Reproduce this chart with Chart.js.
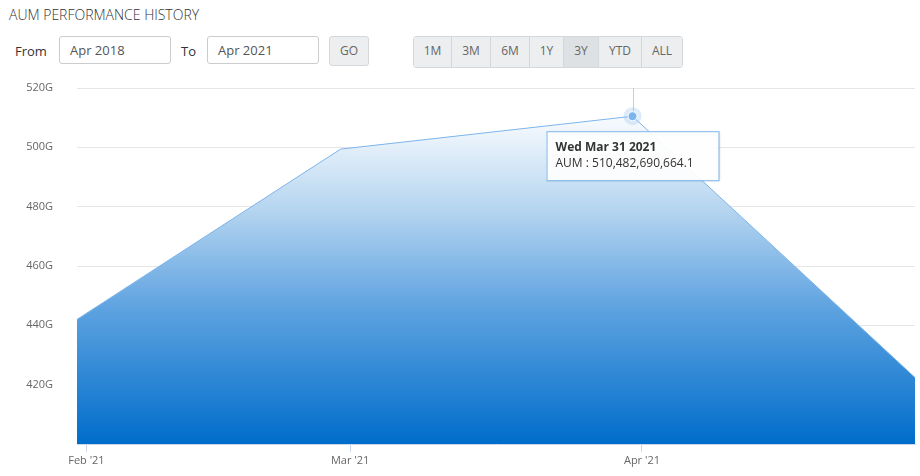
<!DOCTYPE html>
<html><head><meta charset="utf-8">
<script src="https://cdn.jsdelivr.net/npm/chart.js@4"></script>
<style>
body{margin:0;width:920px;height:476px;position:relative;font-family:"Open Sans",sans-serif;background:#fff;overflow:hidden}
#title{position:absolute;left:9px;top:5px;font-size:14px;color:#333;font-weight:300}
.lbl{position:absolute;top:42px;font-size:13px;color:#333}
.inp{position:absolute;top:36px;height:28px;border:1px solid #ccc;border-radius:3px;box-sizing:border-box;font-size:13px;color:#555;padding:6px 10px;line-height:15px}
.btn{position:absolute;top:36px;height:30px;box-sizing:border-box;background:#eceeef;border:1px solid #d5d8da;font-size:12px;color:#666;text-align:center;line-height:28px}
#grp{position:absolute;left:413px;top:36px;height:30px;display:flex;border:1px solid #d5d8da;border-radius:3px;overflow:hidden}
#grp div{background:#eceeef;font-size:12px;color:#666;line-height:28px;text-align:center;border-right:1px solid #d5d8da;box-sizing:border-box}
#grp div:last-child{border-right:none}
canvas{position:absolute;left:0;top:0}
</style></head><body>
<div id="title">AUM PERFORMANCE HISTORY</div>
<div class="lbl" style="left:15px">From</div>
<div class="inp" style="left:59px;width:112px">Apr 2018</div>
<div class="lbl" style="left:181px">To</div>
<div class="inp" style="left:207px;width:112px">Apr 2021</div>
<div class="btn" style="left:329px;width:40px;border-radius:3px">GO</div>
<div id="grp">
<div style="width:38px">1M</div><div style="width:39px">3M</div><div style="width:39px">6M</div><div style="width:34px">1Y</div><div style="width:35px;background:#dde1e3">3Y</div><div style="width:43px">YTD</div><div style="width:40px">ALL</div>
</div>
<div style="position:absolute;left:0;top:0;width:920px;height:476px"><canvas id="c" width="920" height="476"></canvas></div>
<script>
// days since Jan 31 2021
const dayOffsets = [0, 28, 59, 89];
const aumValues = [442.0e9, 499.4e9, 510482690664.1, 422.4e9];
const dateLabels = ["Sun Jan 31 2021", "Sun Feb 28 2021", "Wed Mar 31 2021", "Fri Apr 30 2021"];
const tickDays = [1, 29, 60];
const tickLabels = ["Feb '21", "Mar '21", "Apr '21"];
const activeIndex = 2;

const ctx = document.getElementById('c').getContext('2d');
const overlay = {
  id: 'overlay',
  beforeDatasetsDraw(chart) {
    const meta = chart.getDatasetMeta(0); const p = meta.data[activeIndex];
    const c = chart.ctx; c.save(); c.strokeStyle = '#ccc'; c.lineWidth = 1;
    c.beginPath(); c.moveTo(Math.round(p.x)+0.5, chart.chartArea.top); c.lineTo(Math.round(p.x)+0.5, chart.chartArea.bottom); c.stroke(); c.restore();
  },
  afterDatasetsDraw(chart) {
    const meta = chart.getDatasetMeta(0); const p = meta.data[activeIndex];
    const c = chart.ctx; c.save();
    c.fillStyle = 'rgba(124,181,236,0.25)'; c.beginPath(); c.arc(p.x, p.y, 9, 0, Math.PI*2); c.fill();
    c.fillStyle = '#7cb5ec'; c.strokeStyle = '#fff'; c.lineWidth = 1; c.beginPath(); c.arc(p.x, p.y, 4.5, 0, Math.PI*2); c.fill(); c.stroke();
    const bx = p.x - 86, by = p.y + 15, bw = 172, bh = 49;
    c.shadowColor = 'rgba(0,0,0,0.15)'; c.shadowOffsetX = 1; c.shadowOffsetY = 1; c.shadowBlur = 3;
    c.fillStyle = 'rgba(255,255,255,0.95)'; c.fillRect(bx, by, bw, bh);
    c.shadowColor = 'transparent'; c.strokeStyle = '#7cb5ec'; c.lineWidth = 1; c.strokeRect(bx + 0.5, by + 0.5, bw, bh);
    c.fillStyle = '#333'; c.textBaseline = 'middle';
    c.font = 'bold 12px "Open Sans"'; c.fillText(dateLabels[activeIndex], bx + 9, by + 16);
    c.font = '12px "Open Sans"';
    const v = aumValues[activeIndex].toLocaleString('en-US', {minimumFractionDigits:1, maximumFractionDigits:1});
    c.fillText('AUM : ' + v, bx + 9, by + 32);
    c.restore();
  }
};
new Chart(ctx, {
  type: 'line',
  data: { datasets: [{
    data: dayOffsets.map((d, i) => ({x: d, y: aumValues[i]})),
    borderColor: '#7cb5ec', borderWidth: 1, pointRadius: 0, tension: 0, fill: 'start',
    backgroundColor: (context) => {
      const a = context.chart.chartArea; if (!a) return '#3a8fdc';
      const g = context.chart.ctx.createLinearGradient(0, a.top + 20, 0, a.bottom);
      g.addColorStop(0, '#ffffff'); g.addColorStop(0.3, '#b6d5f0'); g.addColorStop(0.6, '#5da2e0'); g.addColorStop(1, '#006dcb');
      return g;
    }
  }]},
  options: {
    responsive: false, animation: false, events: [],
    layout: { padding: { top: 88, right: 5 } },
    plugins: { legend: {display: false}, tooltip: {enabled: false} },
    scales: {
      x: { type: 'linear', min: dayOffsets[0], max: dayOffsets[dayOffsets.length-1],
        afterBuildTicks: s => { s.ticks = tickDays.map(v => ({value: v})); },
        afterFit: s => { s.height = 32; },
        border: { color: '#ccd6eb' },
        grid: { drawOnChartArea: false, color: '#ccd6eb', tickLength: 8 },
        ticks: { autoSkip: false, maxRotation: 0, padding: 2, color: '#666', font: {family: 'Open Sans', size: 11},
          callback: (v) => { const i = tickDays.indexOf(v); return i >= 0 ? tickLabels[i] : ''; } } },
      y: { min: 400e9, max: 520e9,
        afterBuildTicks: s => { s.ticks = [420,440,460,480,500,520].map(v => ({value: v*1e9})); },
        afterFit: s => { s.width = 77; },
        border: { display: false },
        grid: { color: '#e6e6e6', drawTicks: false },
        ticks: { padding: 24, color: '#666', font: {family: 'Open Sans', size: 11},
          callback: v => (v/1e9) + 'G' } }
    }
  },
  plugins: [overlay]
});
</script>
</body></html>
